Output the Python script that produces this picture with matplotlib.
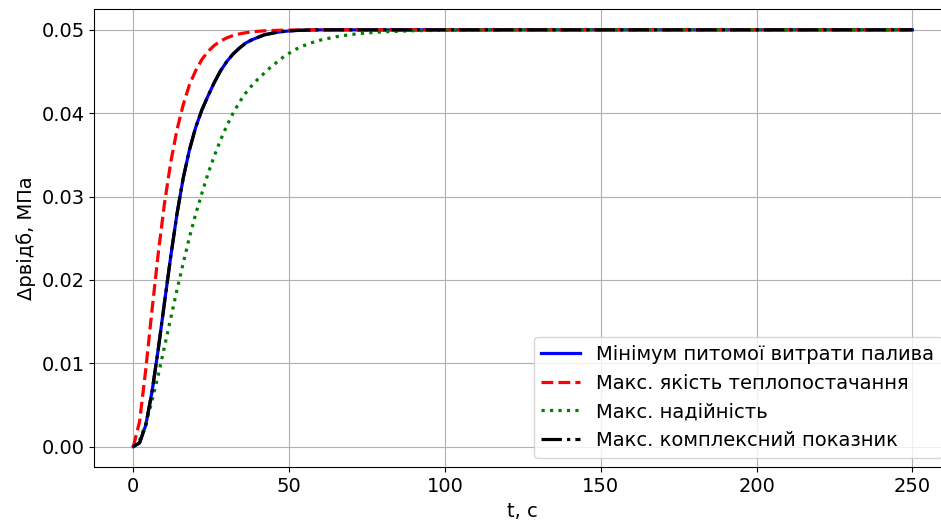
import matplotlib
matplotlib.use("Agg")
import matplotlib.pyplot as plt

# Time grid, s
t = [0, 2, 4, 6, 8, 10, 12, 14, 16, 18, 20, 22, 24, 26, 28, 30,
     32, 34, 36, 38, 40, 42, 44, 46, 48, 50, 52, 54, 56, 58, 60,
     65, 70, 75, 80, 90, 100, 125, 150, 175, 200, 225, 250]

# Pressure drop responses, MPa
p_min_fuel = [0.0, 0.00045, 0.0026, 0.0066, 0.0117, 0.0173, 0.0228, 0.0279,
              0.0322, 0.0356, 0.0383, 0.0404, 0.0421, 0.0437, 0.0451, 0.0462,
              0.0471, 0.0478, 0.0484, 0.0488, 0.0491, 0.0494, 0.04955,
              0.0497, 0.0498, 0.04987, 0.04992, 0.04995, 0.04997, 0.04999,
              0.05, 0.05, 0.05, 0.05, 0.05, 0.05, 0.05, 0.05, 0.05, 0.05,
              0.05, 0.05, 0.05]
p_max_quality = [0.0, 0.0030, 0.0093, 0.0164, 0.0232, 0.0292, 0.0341, 0.0380,
                 0.0410, 0.0434, 0.0451, 0.04645, 0.04742, 0.04814, 0.04866,
                 0.04904, 0.04932, 0.04951, 0.04965, 0.04975, 0.04983, 0.04988,
                 0.04991, 0.04994, 0.04996, 0.04997, 0.04998, 0.04999, 0.04999,
                 0.05, 0.05, 0.05, 0.05, 0.05, 0.05, 0.05, 0.05, 0.05, 0.05,
                 0.05, 0.05, 0.05, 0.05]
p_max_reliab = [0.0, 0.00078, 0.0027, 0.0055, 0.0086, 0.0120, 0.0154, 0.0188,
                0.0220, 0.0251, 0.0279, 0.0304, 0.0328, 0.0349, 0.0368, 0.0385,
                0.0400, 0.0413, 0.0424, 0.0433, 0.0441, 0.0448, 0.0455, 0.0461,
                0.0467, 0.0472, 0.04765, 0.04800, 0.04830, 0.04855, 0.04877,
                0.04917, 0.04945, 0.04963, 0.04976, 0.0499, 0.04995, 0.05,
                0.05, 0.05, 0.05, 0.05, 0.05]
p_max_complex = list(p_min_fuel)

labels = ["Мінімум питомої витрати палива",
          "Макс. якість теплопостачання",
          "Макс. надійність",
          "Макс. комплексний показник"]

fig = plt.figure(figsize=(9.41, 5.30), dpi=100)
ax = fig.add_axes([0.1003, 0.118, 0.9107, 0.865])

lw = 2.3
ax.plot(t, p_min_fuel, color="blue", linewidth=lw, linestyle="-", label=labels[0])
ax.plot(t, p_max_quality, color="red", linewidth=lw, linestyle="--", label=labels[1])
ax.plot(t, p_max_reliab, color="green", linewidth=lw, linestyle=":", label=labels[2])
ax.plot(t, p_max_complex, color="black", linewidth=lw, linestyle="-.", label=labels[3])

ax.set_xlim(-12.5, 262.5)
ax.set_ylim(-0.0025, 0.0525)
ax.set_xticks([0, 50, 100, 150, 200, 250])
ax.set_yticks([0.0, 0.01, 0.02, 0.03, 0.04, 0.05])
ax.tick_params(labelsize=14)
ax.set_xlabel("t, c", fontsize=14)
ax.set_ylabel("Δpвідб, МПа", fontsize=14)
ax.grid(True)
ax.legend(loc="lower right", fontsize=14)

fig.savefig("out.png", dpi=100)
